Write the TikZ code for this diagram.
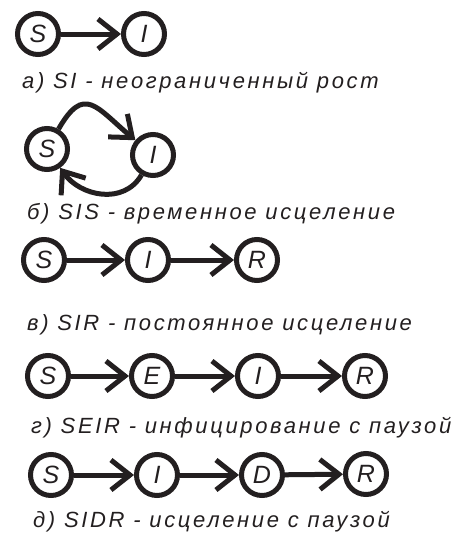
\documentclass[tikz,border=0pt]{standalone}
\usepackage{fontspec}
\setmainfont{Liberation Sans}
\newfontfamily\capfont[LetterSpace=12]{Liberation Sans}
\usetikzlibrary{arrows.meta}
\definecolor{ink}{RGB}{35,31,32}
\tikzset{
  state/.style={circle, draw=ink, line width=5pt, minimum size=41pt, inner sep=0pt,
    font=\fontsize{25}{25}\selectfont\itshape, text=ink},
  flow/.style={draw=ink, line width=5pt,
    -{Straight Barb[length=19pt, width=30pt, line width=5pt]}},
  caption/.style={anchor=base west, inner sep=0pt, text=ink,
    font=\capfont\fontsize{22}{22}\selectfont\itshape}
}
\begin{document}
\begin{tikzpicture}[x=1pt, y=-1pt]
\useasboundingbox (0,0) rectangle (462,539);

% a) SI
\node[state] (aS) at (38,34) {S};
\node[state] (aI) at (144,34) {I};
\draw[flow] (aS) -- (aI);
\node[caption] (capa) at (22,88) {а) SI - неограниченный рост};

% b) SIS
\node[state] (bS) at (47,149) {S};
\node[state] (bI) at (153,155) {I};
\draw[flow] (bS) to[out=60, in=140, looseness=1.7] (bI);
\draw[flow] (bI) to[out=-120, in=-55, looseness=1.1] (bS);
\node[caption] (capb) at (27,219) {б) SIS - временное исцеление};

% c) SIR
\node[state] (cS) at (44,260) {S};
\node[state] (cI) at (148,260) {I};
\node[state] (cR) at (257,260) {R};
\draw[flow] (cS) -- (cI);
\draw[flow] (cI) -- (cR);
\node[caption] (capc) at (27,330) {в) SIR - постоянное исцеление};

% d) SEIR
\node[state] (dS) at (48,376) {S};
\node[state] (dE) at (152,376) {E};
\node[state] (dI) at (258,376) {I};
\node[state] (dR) at (365,376) {R};
\draw[flow] (dS) -- (dE);
\draw[flow] (dE) -- (dI);
\draw[flow] (dI) -- (dR);
\node[caption] (capd) at (31,433) {г) SEIR - инфицирование с паузой};

% e) SIDR
\node[state] (eS) at (51,475) {S};
\node[state] (eI) at (157,475) {I};
\node[state] (eD) at (262,475) {D};
\node[state] (eR) at (366,474) {R};
\draw[flow] (eS) -- (eI);
\draw[flow] (eI) -- (eD);
\draw[flow] (eD) -- (eR);
\node[caption] (cape) at (33,527) {д) SIDR - исцеление с паузой};
\end{tikzpicture}
\end{document}
